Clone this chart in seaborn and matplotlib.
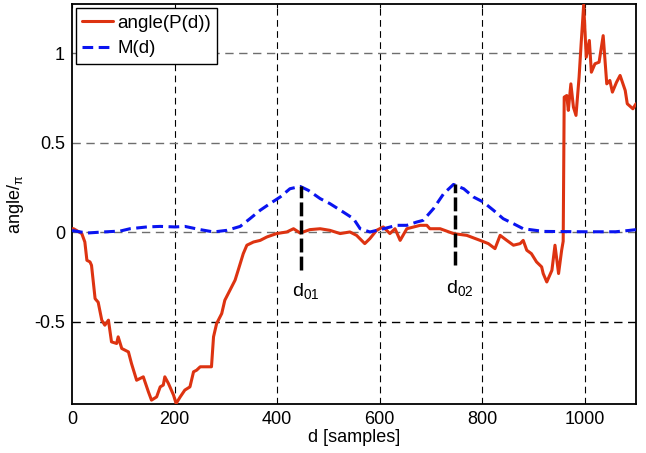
import matplotlib
matplotlib.use("Agg")
import matplotlib.pyplot as plt
import seaborn as sns
import pandas as pd
import numpy as np

# ---------------- data ----------------
red_x = [0, 3, 19, 25, 29, 35, 38, 45, 51, 58, 64, 71, 77, 87, 90, 97, 110, 116, 126, 139,
         149, 155, 165, 172, 178, 181, 188, 198, 203, 211, 220, 230, 237, 243, 250, 263, 272,
         276, 282, 292, 298, 308, 318, 324, 334, 341, 354, 367, 380, 399, 419, 432, 445, 464,
         484, 503, 523, 542, 555, 571, 581, 594, 607, 620, 630, 640, 653, 679, 692, 698, 718,
         744, 770, 796, 812, 825, 835, 848, 861, 874, 880, 887, 896, 906, 916, 919, 926, 936,
         942, 949, 955, 958, 960, 965, 968, 973, 978, 983, 989, 993, 998, 1003, 1009, 1013,
         1020, 1028, 1036, 1043, 1049, 1054, 1062, 1069, 1079, 1083, 1094, 1100]
red_y = [0.02, 0.02, -0.007, -0.054, -0.156, -0.165, -0.184, -0.37, -0.39, -0.49, -0.518,
         -0.49, -0.611, -0.62, -0.583, -0.648, -0.667, -0.732, -0.825, -0.806, -0.89, -0.936,
         -0.918, -0.862, -0.852, -0.806, -0.843, -0.908, -0.955, -0.918, -0.88, -0.862, -0.778,
         -0.769, -0.75, -0.75, -0.75, -0.583, -0.509, -0.453, -0.379, -0.323, -0.267, -0.212,
         -0.119, -0.072, -0.054, -0.045, -0.026, -0.007, 0.002, 0.02, -0.004, 0.015, 0.02,
         0.011, -0.007, 0.002, -0.017, -0.063, -0.035, 0.011, 0.03, -0.007, 0.02, -0.045,
         0.02, 0.039, 0.039, 0.02, 0.02, -0.007, -0.017, -0.045, -0.063, -0.091, -0.017,
         -0.045, -0.072, -0.063, -0.045, -0.1, -0.119, -0.165, -0.193, -0.23, -0.277, -0.212,
         -0.072, -0.23, -0.1, -0.05, 0.754, 0.763, 0.68, 0.828, 0.698, 0.652, 0.865, 1.051,
         1.27, 0.977, 1.07, 0.893, 0.94, 0.949, 1.097, 0.828, 0.847, 0.782, 0.837, 0.875,
         0.791, 0.717, 0.689, 0.717]

blue_x = [0, 29, 61, 94, 113, 146, 172, 201, 220, 250, 276, 302, 328, 347, 367, 386, 406,
          425, 445, 461, 484, 503, 529, 549, 562, 581, 601, 633, 653, 672, 685, 705, 725,
          744, 764, 783, 802, 822, 841, 861, 880, 920, 1000, 1060, 1085, 1100]
blue_y = [0.01, -0.004, 0.002, 0.007, 0.02, 0.03, 0.033, 0.03, 0.033, 0.015, 0.002, 0.011,
          0.033, 0.076, 0.123, 0.16, 0.197, 0.243, 0.256, 0.234, 0.188, 0.16, 0.113, 0.076,
          0.02, 0.002, 0.015, 0.039, 0.039, 0.057, 0.067, 0.132, 0.216, 0.267, 0.243, 0.197,
          0.169, 0.123, 0.076, 0.048, 0.02, 0.005, 0.003, 0.003, 0.01, 0.015]

marker_x = [447, 747]
marker_top = [0.256, 0.267]
marker_bottom = [-0.21, -0.185]
marker_labels = ["$\\mathregular{d_{01}}$", "$\\mathregular{d_{02}}$"]
marker_label_x = [455, 756]
marker_label_y = [-0.325, -0.31]

x_ticks = [0, 200, 400, 600, 800, 1000]
y_ticks = [-0.5, 0, 0.5, 1]
y_tick_labels = ["-0.5", "0", "0.5", "1"]

# ---------------- style ----------------
sns.set_style("white")
plt.rcParams['font.family'] = ['Liberation Sans', 'DejaVu Sans']
plt.rcParams['mathtext.fontset'] = 'custom'
plt.rcParams['mathtext.rm'] = 'Liberation Sans'
plt.rcParams['mathtext.it'] = 'Liberation Sans'
plt.rcParams['text.color'] = 'black'
plt.rcParams['axes.labelcolor'] = 'black'
plt.rcParams['xtick.color'] = 'black'
plt.rcParams['ytick.color'] = 'black'
plt.rcParams['legend.labelcolor'] = 'black'

fig = plt.figure(figsize=(6.46, 4.53), dpi=100)
ax = fig.add_axes([0.1115, 0.108, 0.873, 0.883])

red_df = pd.DataFrame({"d": red_x, "val": red_y})
blue_df = pd.DataFrame({"d": blue_x, "val": blue_y})

# grid
for xv in x_ticks[1:]:
    ax.axvline(xv, color="black", lw=0.8, ls=(0, (6, 4)), zorder=1)
for yv in y_ticks:
    c = "black" if yv < 0 else "#6e6e6e"
    ax.axhline(yv, color=c, lw=1.0, ls=(0, (6, 4)), zorder=1)

sns.lineplot(data=red_df, x="d", y="val", ax=ax, color="#dd3311", lw=2.2,
             estimator=None, sort=False, label="angle(P(d))", zorder=3)
sns.lineplot(data=blue_df, x="d", y="val", ax=ax, color="#0a14f0", lw=2.2,
             estimator=None, sort=False, label="M(d)", zorder=4)
ax.lines[-1].set_dashes([3.5, 1.8])

for mx, mt, mb, lab, lx, ly in zip(marker_x, marker_top, marker_bottom, marker_labels,
                                    marker_label_x, marker_label_y):
    ax.plot([mx, mx], [mb, mt], color="black", lw=2.5, ls=(0, (4, 1.2)), zorder=5)
    ax.text(lx, ly, lab, ha="center", va="center", fontsize=14, color="black")

ax.set_xlim(0, 1100)
ax.set_ylim(-0.958, 1.273)
ax.set_xticks(x_ticks)
ax.set_xticklabels([str(v) for v in x_ticks])
ax.set_yticks(y_ticks)
ax.set_yticklabels(y_tick_labels)
ax.tick_params(axis="x", direction="in", length=3, width=0.8, labelsize=13, top=True,
               colors="black", pad=5)
ax.tick_params(axis="y", direction="out", length=3, width=0.8, labelsize=13, right=False,
               colors="black", pad=2)
ax.set_xlabel("d [samples]", fontsize=13, labelpad=1, color="black")
ax.set_ylabel("angle/$\\mathregular{_{π}}$", fontsize=13, labelpad=6, color="black")
for s in ax.spines.values():
    s.set_color("black")
    s.set_linewidth(1.3)

leg = ax.legend(loc="upper left", fontsize=13.5, frameon=True, fancybox=False,
                borderaxespad=0.2, handlelength=1.65, handletextpad=0.2,
                borderpad=0.35, labelspacing=0.45)
leg.get_frame().set_edgecolor("black")
leg.get_frame().set_linewidth(1.0)
leg.get_frame().set_alpha(1)
for t in leg.get_texts():
    t.set_color("black")

fig.savefig("out.png", dpi=100)
